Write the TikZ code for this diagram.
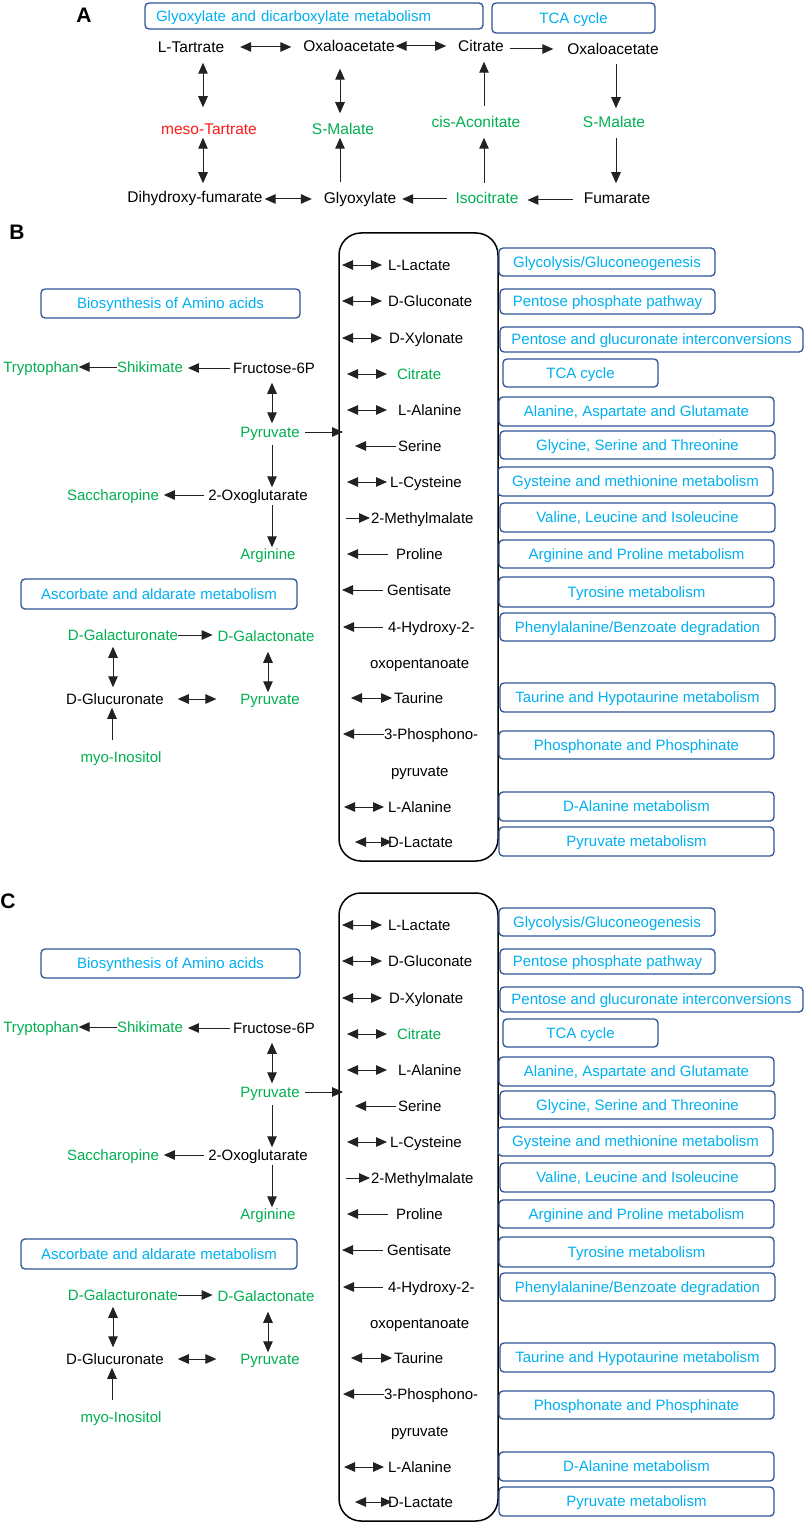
\documentclass[tikz,border=0pt]{standalone}
\usepackage{fontspec}
\setmainfont{Liberation Sans}
\usetikzlibrary{arrows.meta,calc}
\definecolor{cyanT}{HTML}{00B0F0}
\definecolor{grnT}{HTML}{00B050}
\definecolor{redT}{HTML}{FF1A1A}
\definecolor{boxB}{HTML}{2F5597}
\definecolor{arrC}{HTML}{222222}
\newcommand\fsB{\fontsize{15}{18}\selectfont}
\newcommand\fsA{\fontsize{15.5}{18}\selectfont}
\newcommand\fsL{\fontsize{21}{25}\selectfont\bfseries}
\tikzset{
  pbox/.style={draw=boxB, line width=1.3pt, rounded corners=4pt, text=cyanT},
  gtxt/.style={text=grnT},
  rtxt/.style={text=redT},
  arr/.style={draw=arrC, line width=1pt, -{Triangle[length=11pt,width=9.5pt]}},
  darr/.style={draw=arrC, line width=1pt, {Triangle[length=11pt,width=9.5pt]}-{Triangle[length=11pt,width=9.5pt]}},
}
\newcommand\panelBody{%
  % left part
  \node[pbox, minimum width=259, minimum height=29] (bio) at (170.5,303.5) {Biosynthesis of Amino acids};
  \node[gtxt] (trp) at (41,367) {Tryptophan};
  \node[gtxt] (shik) at (150,367) {Shikimate};
  \node (f6p) at (274,368) {Fructose-6P};
  \node[gtxt] (pyr) at (270,432) {Pyruvate};
  \node (oxg) at (258,495) {2-Oxoglutarate};
  \node[gtxt] (sac) at (113,495) {Saccharopine};
  \node[gtxt] (arg) at (268,554) {Arginine};
  \node[pbox, minimum width=276, minimum height=30] (asc) at (159,594) {Ascorbate and aldarate metabolism};
  \node[gtxt] (galU) at (123,635) {D-Galacturonate};
  \node[gtxt] (galO) at (266,636) {D-Galactonate};
  \node (glcU) at (115,699) {D-Glucuronate};
  \node[gtxt] (pyrB) at (270,699) {Pyruvate};
  \node[gtxt] (myo) at (121,757) {myo-Inositol};
  \draw[arr] (shik.west) -- (shik.west -| trp.east);
  \draw[arr, shorten <=3pt, shorten >=5pt] (f6p.west) -- (f6p.west -| shik.east);
  \draw[darr, shorten <=8pt, shorten >=2pt] ($(f6p.south)+(-2,0)$) -- ($(f6p.south |- pyr.north)+(-2,0)$);
  \draw[arr, shorten <=6pt, shorten >=1pt] ($(pyr.south)+(2,0)$) -- ($(pyr.south |- oxg.north)+(2,0)$);
  \draw[arr, shorten <=3pt] ($(oxg.south)+(14,0)$) -- ($(oxg.south |- arg.north)+(14,0)$);
  \draw[arr, shorten <=4pt, shorten >=5pt] (oxg.west) -- (oxg.west -| sac.east);
  \draw[arr, shorten <=5pt, shorten >=-4pt] (pyr.east) -- (pyr.east -| bb.west);
  \draw[arr, shorten >=5pt] (galU.east) -- (galU.east -| galO.west);
  \draw[darr, shorten <=5pt, shorten >=5pt] ($(galU.south)+(-10,0)$) -- ($(galU.south |- glcU.north)+(-10,0)$);
  \draw[darr, shorten <=9pt] ($(galO.south)+(2,0)$) -- ($(galO.south |- pyrB.north)+(2,0)$);
  \draw[darr, shorten <=14pt, shorten >=24pt] (glcU.east) -- (glcU.east -| pyrB.west);
  \draw[arr, shorten <=10pt, shorten >=2pt] ($(myo.north)+(-9,0)$) -- ($(myo.north |- glcU.south)+(-9,0)$);
  % right column
  \node[pbox, minimum width=216, minimum height=28] (r1) at (607,262) {Glycolysis/Gluconeogenesis};
  \node[pbox, minimum width=215, minimum height=25] (r2) at (607.5,301.5) {Pentose phosphate pathway};
  \node[pbox, minimum width=303, minimum height=25] (r3) at (651.5,339.5) {Pentose and glucuronate interconversions};
  \node[pbox, minimum width=155, minimum height=28] (r4) at (580.5,373) {TCA cycle};
  \node[pbox, minimum width=275, minimum height=29] (r5) at (636.5,411.5) {Alanine, Aspartate and Glutamate};
  \node[pbox, minimum width=275, minimum height=28] (r6) at (637.5,445) {Glycine, Serine and Threonine};
  \node[pbox, minimum width=275, minimum height=29] (r7) at (635.5,481.5) {Gysteine and methionine metabolism};
  \node[pbox, minimum width=275, minimum height=29] (r8) at (637.5,517.5) {Valine, Leucine and Isoleucine};
  \node[pbox, minimum width=275, minimum height=28] (r9) at (636.5,554) {Arginine and Proline metabolism};
  \node[pbox, minimum width=275, minimum height=30] (r10) at (636.5,592) {Tyrosine metabolism};
  \node[pbox, minimum width=275, minimum height=28] (r11) at (637.5,627) {Phenylalanine/Benzoate degradation};
  \node[pbox, minimum width=275, minimum height=29] (r12) at (637.5,697.5) {Taurine and Hypotaurine metabolism};
  \node[pbox, minimum width=275, minimum height=28] (r13) at (636.5,745) {Phosphonate and Phosphinate};
  \node[pbox, minimum width=275, minimum height=29] (r14) at (636.5,806.5) {D-Alanine metabolism};
  \node[pbox, minimum width=275, minimum height=29] (r15) at (636.5,841.5) {Pyruvate metabolism};
  % metabolites in the big box
  \node[anchor=west] (m1) at (388,265) {L-Lactate};
  \node[anchor=west] (m2) at (388,301) {D-Gluconate};
  \node[anchor=west] (m3) at (389,338) {D-Xylonate};
  \node[anchor=west, gtxt] (m4) at (397,374) {Citrate};
  \node[anchor=west] (m5) at (398,410) {L-Alanine};
  \node[anchor=west] (m6) at (398,446) {Serine};
  \node[anchor=west] (m7) at (390,482) {L-Cysteine};
  \node[anchor=west] (m8) at (371,518) {2-Methylmalate};
  \node[anchor=west] (m9) at (396,554) {Proline};
  \node[anchor=west] (m10) at (387,590) {Gentisate};
  \node[anchor=west] (m11) at (388,627) {4-Hydroxy-2-};
  \node[anchor=west] (m12) at (370,663) {oxopentanoate};
  \node[anchor=west] (m13) at (394,698) {Taurine};
  \node[anchor=west] (m14) at (384,734) {3-Phosphono-};
  \node[anchor=west] (m15) at (391,771) {pyruvate};
  \node[anchor=west] (m16) at (388,807) {L-Alanine};
  \node[anchor=west] (m17) at (388,842) {D-Lactate};
  \draw[darr, shorten <=3pt, shorten >=6pt] (bb.west |- m1.west) -- (m1.west);
  \draw[darr, shorten <=3pt, shorten >=6pt] (bb.west |- m2.west) -- (m2.west);
  \draw[darr, shorten <=3pt, shorten >=7pt] (bb.west |- m3.west) -- (m3.west);
  \draw[darr, shorten <=8pt, shorten >=10pt] (bb.west |- m4.west) -- (m4.west);
  \draw[darr, shorten <=8pt, shorten >=11pt] (bb.west |- m5.west) -- (m5.west);
  \draw[arr, shorten <=2pt, shorten >=16pt] (m6.west) -- (bb.west |- m6.west);
  \draw[darr, shorten <=8pt, shorten >=3pt] (bb.west |- m7.west) -- (m7.west);
  \draw[arr, shorten <=7pt, shorten >=1pt] (bb.west |- m8.west) -- (m8.west);
  \draw[arr, shorten <=8pt, shorten >=8pt] (m9.west) -- (bb.west |- m9.west);
  \draw[arr, shorten <=4pt, shorten >=3pt] (m10.west) -- (bb.west |- m10.west);
  \draw[arr, shorten <=5pt, shorten >=4pt] (m11.west) -- (bb.west |- m11.west);
  \draw[darr, shorten <=12pt, shorten >=2pt] (bb.west |- m13.west) -- (m13.west);
  \draw[arr, shorten >=4pt] (m14.west) -- (bb.west |- m14.west);
  \draw[darr, shorten <=5pt, shorten >=4pt] (bb.west |- m16.west) -- (m16.west);
  \draw[darr, shorten <=16pt, shorten >=-4pt] (bb.west |- m17.west) -- (m17.west);
}
\begin{document}
\begin{tikzpicture}[x=1pt, y=-1pt,
  every node/.style={inner sep=0pt, outer sep=0pt, font=\fsB, text height=12pt, text depth=1.5pt}]
\useasboundingbox[fill=white] (0,0) rectangle (805,1522);
% ---------- Panel A ----------
\node[font=\fsL, text height=15pt, text depth=0pt] (labA) at (84,15) {A};
\node[pbox, minimum width=338, minimum height=26, text width=316, align=left] (gbox) at (314,16) {Glyoxylate and dicarboxylate metabolism};
\node[pbox, minimum width=163, minimum height=30] (tbox) at (573.5,18) {TCA cycle};
\begin{scope}[every node/.append style={font=\fsA}]
\node (lt) at (191,47) {L-Tartrate};
\node (oxa) at (349,46) {Oxaloacetate};
\node (cit) at (481,46) {Citrate};
\node (oxb) at (613,49) {Oxaloacetate};
\node[gtxt] (smb) at (614,122) {S-Malate};
\node (fum) at (617,198) {Fumarate};
\node[gtxt] (iso) at (487,198) {Isocitrate};
\node[gtxt] (cis) at (476,122) {cis-Aconitate};
\node (gly) at (360,198) {Glyoxylate};
\node[gtxt] (sma) at (343,129) {S-Malate};
\node (dhf) at (195,197) {Dihydroxy-fumarate};
\node[rtxt] (meso) at (209,129) {meso-Tartrate};
\end{scope}
\draw[darr, shorten <=16pt, shorten >=12pt] (lt.east) -- (lt.east -| oxa.west);
\draw[darr, shorten <=1pt, shorten >=12pt] (oxa.east) -- (oxa.east -| cit.west);
\draw[arr, shorten <=6pt, shorten >=14pt] ($(cit.east)+(0,3)$) -- ($(cit.east -| oxb.west)+(0,3)$);
\draw[arr, shorten <=8pt, shorten >=7pt] ($(oxb.south)+(3,0)$) -- ($(oxb.south |- smb.north)+(3,0)$);
\draw[arr, shorten <=9pt, shorten >=8pt] ($(smb.south)+(2,0)$) -- ($(smb.south |- fum.north)+(2,0)$);
\draw[arr, shorten <=11pt, shorten >=9pt] ($(fum.west)+(0,2)$) -- ($(fum.west -| iso.east)+(0,2)$);
\draw[arr, shorten <=8pt, shorten >=9pt] ($(iso.north)+(-3,0)$) -- ($(iso.north |- cis.south)+(-3,0)$);
\draw[arr, shorten <=9pt, shorten >=9pt] ($(cis.north)+(8,0)$) -- ($(cis.north |- cit.south)+(8,0)$);
\draw[arr, shorten <=9pt, shorten >=6pt] ($(iso.west)+(0,1)$) -- ($(iso.west -| gly.east)+(0,1)$);
\draw[arr, shorten <=9pt, shorten >=2pt] ($(gly.north)+(-20,0)$) -- ($(gly.north |- sma.south)+(-20,0)$);
\draw[darr, shorten <=16pt, shorten >=9pt] ($(oxa.south)+(-9,0)$) -- ($(oxa.south |- sma.north)+(-9,0)$);
\draw[darr, shorten <=2pt, shorten >=12pt] ($(dhf.east)+(0,2)$) -- ($(dhf.east -| gly.west)+(0,2)$);
\draw[darr, shorten <=9pt, shorten >=15pt] ($(lt.south)+(12,0)$) -- ($(lt.south |- meso.north)+(12,0)$);
\draw[darr, shorten <=2pt, shorten >=7pt] ($(meso.south)+(-6,0)$) -- ($(meso.south |- dhf.north)+(-6,0)$);
% ---------- Panel B ----------
\node[font=\fsL, text height=15pt, text depth=0pt] (labB) at (17,232) {B};
\node[draw=black, line width=1.5pt, rounded corners=22pt, minimum width=159, minimum height=628] (bb) at (418.5,547) {};
\panelBody
% ---------- Panel C ----------
\node[font=\fsL, text height=15pt, text depth=0pt] (labC) at (8,901) {C};
\begin{scope}[yshift=-660pt, name prefix=c-]
\node[draw=black, line width=1.5pt, rounded corners=22pt, minimum width=159, minimum height=628] (bb) at (418.5,547) {};
\panelBody
\end{scope}
\end{tikzpicture}
\end{document}
